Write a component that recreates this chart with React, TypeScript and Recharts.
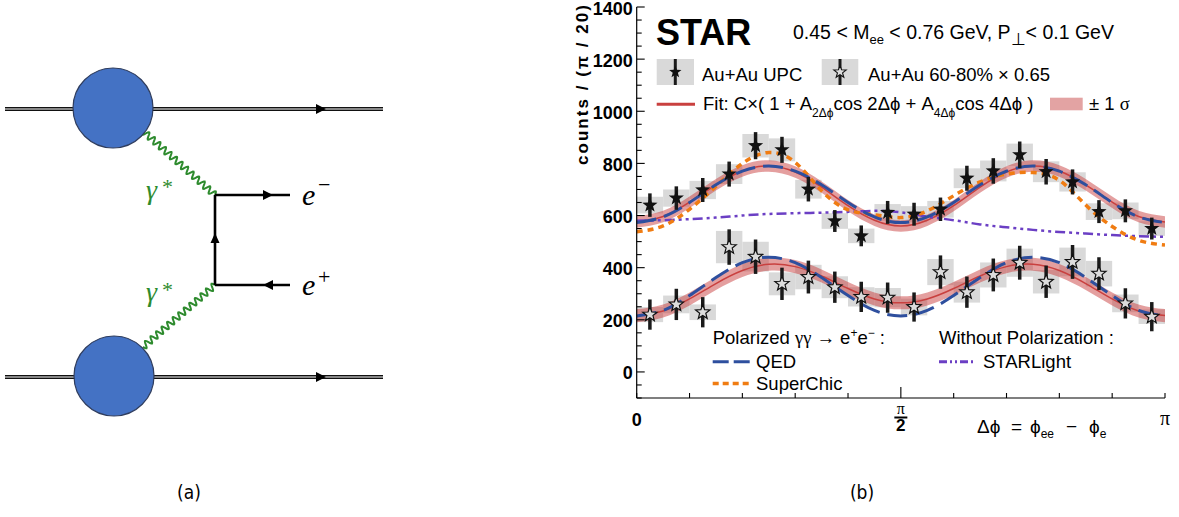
import React from "react";
import {
  ComposedChart,
  Line,
  Area,
  Scatter,
  XAxis,
  YAxis,
  ReferenceArea,
  ReferenceLine,
  ReferenceDot,
  ErrorBar,
} from "recharts";

// ---------------- data (x in units of pi) ----------------
const binCenters = [0.025, 0.075, 0.125, 0.175, 0.225, 0.275, 0.325, 0.375, 0.425, 0.475, 0.525, 0.575, 0.625, 0.675, 0.725, 0.775, 0.825, 0.875, 0.925, 0.975];
const binHalfWidth = 0.025;

const upcCounts = [640, 667, 698, 759, 868, 852, 701, 579, 522, 612, 605, 624, 743, 771, 833, 768, 729, 615, 618, 550];
const upcStat = [45, 45, 46, 48, 52, 50, 47, 42, 40, 44, 44, 45, 48, 49, 51, 49, 48, 44, 44, 42];
const upcSys = [32, 33, 35, 38, 45, 44, 36, 30, 28, 32, 31, 32, 38, 40, 43, 40, 37, 32, 32, 28];

const periphCounts = [220, 259, 229, 479, 442, 338, 364, 325, 288, 285, 249, 383, 306, 372, 419, 346, 422, 377, 263, 212];
const periphStat = [58, 60, 58, 68, 66, 62, 63, 60, 58, 58, 56, 64, 60, 63, 65, 62, 65, 63, 58, 56];
const periphSys = [29, 34, 30, 62, 57, 44, 47, 42, 37, 37, 32, 50, 40, 48, 54, 45, 55, 49, 34, 28];

const curveX = [0, 0.05, 0.1, 0.15, 0.2, 0.25, 0.3, 0.35, 0.4, 0.45, 0.5, 0.55, 0.6, 0.65, 0.7, 0.75, 0.8, 0.85, 0.9, 0.95, 1];
const upcFit = [575, 596, 651, 718, 771, 790, 767, 709, 638, 582, 560, 582, 638, 709, 767, 790, 771, 718, 651, 596, 575];
const upcFitSigma = 22;
const upcQED = [573, 595, 650, 718, 770, 790, 770, 718, 650, 595, 573, 595, 650, 718, 770, 790, 770, 718, 650, 595, 573];
const upcSuperChic = [538, 560, 624, 712, 800, 842, 804, 695, 622, 603, 592, 618, 676, 729, 759, 765, 735, 640, 558, 505, 487];
const upcStarlight = [580, 582, 586, 592, 600, 606, 609, 611, 614, 618, 612, 596, 582, 566, 555, 545, 537, 531, 525, 521, 518];

const periphFit = [216, 234, 280, 339, 389, 413, 404, 368, 320, 280, 265, 280, 320, 368, 404, 413, 389, 339, 280, 234, 216];
const periphFitSigma = 25;
const periphQED = [215, 236, 293, 362, 419, 440, 419, 362, 293, 236, 215, 236, 293, 362, 419, 440, 419, 362, 293, 236, 215];

const yTicks = [-100, -50, 0, 50, 100, 150, 200, 250, 300, 350, 400, 450, 500, 550, 600, 650, 700, 750, 800, 850, 900, 950, 1000, 1050, 1100, 1150, 1200, 1250, 1300, 1350, 1400];
const xTicks = [0, 0.1, 0.2, 0.3, 0.4, 0.5, 0.6, 0.7, 0.8, 0.9, 1];

// ---------------- derived tables ----------------
const curve = (vals: number[]) => curveX.map((x, i) => ({ x, y: vals[i] }));
const band = (vals: number[], s: number) => curveX.map((x, i) => ({ x, band: [vals[i] - s, vals[i] + s] }));
const points = (vals: number[], err: number[]) => binCenters.map((x, i) => ({ x, y: vals[i], err: err[i] }));

// ---------------- styles ----------------
const SANS = "'Liberation Sans', Arial, Helvetica, sans-serif";
const SERIF = "'Liberation Serif', 'DejaVu Serif', serif";
const NARROW = "'Liberation Sans Narrow', 'DejaVu Sans Condensed', sans-serif";
const RED = "#c9403f";
const BLUE = "#2e4f9e";
const ORANGE = "#f07c12";
const PURPLE = "#6b3fc4";
const GRAY = "#d9d9d9";
const GREEN = "#2e8b2e";
const CIRCLE = "#4472c4";

function starPoints(cx: number, cy: number, R: number, r: number) {
  const pts: string[] = [];
  for (let k = 0; k < 10; k++) {
    const a = -Math.PI / 2 + (k * Math.PI) / 5;
    const rad = k % 2 === 0 ? R : r;
    pts.push(`${(cx + rad * Math.cos(a)).toFixed(2)},${(cy + rad * Math.sin(a)).toFixed(2)}`);
  }
  return pts.join(" ");
}

const FilledStar = (p: any) =>
  p.cx == null ? <g /> : <polygon points={starPoints(p.cx, p.cy, 8, 3.3)} fill="#111" />;
const OpenStar = (p: any) =>
  p.cx == null ? <g /> : <polygon points={starPoints(p.cx, p.cy, 7.5, 3.2)} fill="#dcdcdc" stroke="#111" strokeWidth={1.2} />;

const LeftTick = (p: any) => {
  const { x, y, payload } = p;
  const v = payload.value;
  const major = v % 200 === 0;
  return (
    <g>
      <line x1={x} y1={y} x2={x + (major ? 8 : 5)} y2={y} stroke="#000" strokeWidth={1.1} />
      {major ? (
        <text x={x - 4} y={y + 7.5} textAnchor="end" fontFamily={SANS} fontWeight="bold" fontSize={18} fill="#000">
          {v}
        </text>
      ) : null}
    </g>
  );
};

const RightTick = (p: any) => {
  const { x, y, payload } = p;
  const major = payload.value % 200 === 0;
  return <line x1={x} y1={y} x2={x - (major ? 8 : 5)} y2={y} stroke="#000" strokeWidth={1.1} />;
};

const TopTick = (p: any) => {
  const { x, y } = p;
  return <line x1={x} y1={y} x2={x} y2={y + 6} stroke="#000" strokeWidth={1.1} />;
};

const BottomTick = (p: any) => {
  const { x, y, payload } = p;
  const v = payload.value;
  return (
    <g>
      <line x1={x} y1={y} x2={x} y2={y - (v === 0.5 ? 11 : 5)} stroke="#000" strokeWidth={1.1} />
      {v === 0 ? (
        <text x={x} y={y + 28} textAnchor="middle" fontFamily={SANS} fontWeight="bold" fontSize={18} fill="#000">0</text>
      ) : null}
      {v === 0.5 ? (
        <g>
          <text x={x} y={y + 16} textAnchor="middle" fontFamily={SERIF} fontSize={16} fill="#000">π</text>
          <line x1={x - 6.5} x2={x + 6.5} y1={y + 19.5} y2={y + 19.5} stroke="#000" strokeWidth={2} />
          <text x={x} y={y + 33} textAnchor="middle" fontFamily={SANS} fontWeight="bold" fontSize={17} fill="#000">2</text>
        </g>
      ) : null}
      {v === 1 ? (
        <text x={x} y={y + 27} textAnchor="middle" fontFamily={SERIF} fontSize={20} fill="#000">π</text>
      ) : null}
    </g>
  );
};

// ---------------- diagram shapes ----------------
const DoubleLine = (p: any) => {
  const { x1, y1, x2, y2 } = p;
  return (
    <g>
      <line x1={x1} y1={y1} x2={x2} y2={y2} stroke="#111" strokeWidth={4} />
      <line x1={x1} y1={y1} x2={x2} y2={y2} stroke="#fff" strokeWidth={1} />
    </g>
  );
};

const Wavy = (p: any) => {
  const { x1, y1, x2, y2 } = p;
  const dx = x2 - x1;
  const dy = y2 - y1;
  const L = Math.hypot(dx, dy) || 1;
  const nx = -dy / L;
  const ny = dx / L;
  const waves = 13;
  const amp = 3.2;
  const steps = waves * 12;
  let d = "";
  for (let i = 0; i <= steps; i++) {
    const t = i / steps;
    const off = amp * Math.sin(t * waves * 2 * Math.PI);
    const px = x1 + dx * t + nx * off;
    const py = y1 + dy * t + ny * off;
    d += (i ? "L" : "M") + px.toFixed(2) + "," + py.toFixed(2);
  }
  return <path d={d} fill="none" stroke={GREEN} strokeWidth={2} />;
};

const FermionLine = (p: any) => {
  const { x1, y1, x2, y2 } = p;
  return <line x1={x1} y1={y1} x2={x2} y2={y2} stroke="#000" strokeWidth={2.6} />;
};

const ArrowRight = (p: any) => (
  <polygon points={`${p.cx + 5},${p.cy} ${p.cx - 5},${p.cy - 5} ${p.cx - 5},${p.cy + 5}`} fill="#000" />
);
const ArrowLeft = (p: any) => (
  <polygon points={`${p.cx - 5},${p.cy} ${p.cx + 5},${p.cy - 5} ${p.cx + 5},${p.cy + 5}`} fill="#000" />
);
const ArrowUp = (p: any) => (
  <polygon points={`${p.cx},${p.cy - 5} ${p.cx - 4.5},${p.cy + 5} ${p.cx + 4.5},${p.cy + 5}`} fill="#000" />
);

// diagram geometry (pixel-like frame)
const beamTopY = 109;
const beamBotY = 377;
const beamX0 = 5;
const beamX1 = 383;
const blobTop = { x: 113, y: 108 };
const blobBot = { x: 114, y: 376 };
const blobR = 40;
const vertexTop = { x: 215, y: 195 };
const vertexBot = { x: 215, y: 285 };
const photonTopStart = { x: 143, y: 131 };
const photonBotStart = { x: 143, y: 347 };
const leptonEndX = 290;

const Diagram = () => (
  <ComposedChart width={400} height={517} margin={{ top: 0, right: 0, bottom: 0, left: 0 }}>
    <XAxis xAxisId="d" type="number" dataKey="x" domain={[0, 400]} hide allowDataOverflow />
    <YAxis yAxisId="d" type="number" domain={[0, 517]} reversed hide allowDataOverflow />
    <Scatter xAxisId="d" yAxisId="d" dataKey="y" data={[{ x: 0, y: 0 }, { x: 400, y: 517 }]} shape={() => <g />} isAnimationActive={false} />
    <ReferenceLine xAxisId="d" yAxisId="d" segment={[{ x: beamX0, y: beamTopY }, { x: beamX1, y: beamTopY }]} shape={DoubleLine} />
    <ReferenceLine xAxisId="d" yAxisId="d" segment={[{ x: beamX0, y: beamBotY }, { x: beamX1, y: beamBotY }]} shape={DoubleLine} />
    <ReferenceDot xAxisId="d" yAxisId="d" x={321} y={beamTopY} shape={ArrowRight} />
    <ReferenceDot xAxisId="d" yAxisId="d" x={321} y={beamBotY} shape={ArrowRight} />
    <ReferenceLine xAxisId="d" yAxisId="d" segment={[photonTopStart, vertexTop]} shape={Wavy} />
    <ReferenceLine xAxisId="d" yAxisId="d" segment={[photonBotStart, vertexBot]} shape={Wavy} />
    <ReferenceDot xAxisId="d" yAxisId="d" x={blobTop.x} y={blobTop.y} r={blobR} fill={CIRCLE} stroke="#2f3d5e" strokeWidth={1.2} />
    <ReferenceDot xAxisId="d" yAxisId="d" x={blobBot.x} y={blobBot.y} r={blobR} fill={CIRCLE} stroke="#2f3d5e" strokeWidth={1.2} />
    <ReferenceLine xAxisId="d" yAxisId="d" segment={[vertexTop, vertexBot]} shape={FermionLine} />
    <ReferenceLine xAxisId="d" yAxisId="d" segment={[vertexTop, { x: leptonEndX, y: vertexTop.y }]} shape={FermionLine} />
    <ReferenceLine xAxisId="d" yAxisId="d" segment={[vertexBot, { x: leptonEndX, y: vertexBot.y }]} shape={FermionLine} />
    <ReferenceDot xAxisId="d" yAxisId="d" x={vertexTop.x} y={238} shape={ArrowUp} />
    <ReferenceDot xAxisId="d" yAxisId="d" x={268} y={vertexTop.y} shape={ArrowRight} />
    <ReferenceDot xAxisId="d" yAxisId="d" x={268} y={vertexBot.y} shape={ArrowLeft} />
  </ComposedChart>
);

const Plot = () => (
  <ComposedChart width={619} height={460} margin={{ top: 7, right: 14, bottom: 0, left: 0 }}>
    <XAxis xAxisId="b" type="number" dataKey="x" domain={[0, 1]} ticks={xTicks} interval={0} allowDataOverflow
      tickSize={0} tickMargin={0} tickLine={false} tick={(p: any) => <BottomTick {...p} />} height={62}
      axisLine={{ stroke: "#000", strokeWidth: 1.2 }} />
    <XAxis xAxisId="t" orientation="top" type="number" dataKey="x" domain={[0, 1]} ticks={xTicks} interval={0} allowDataOverflow
      tickSize={0} tickMargin={0} tickLine={false} tick={(p: any) => <TopTick {...p} />} height={0}
      axisLine={{ stroke: "#000", strokeWidth: 1.2 }} />
    <YAxis yAxisId="l" type="number" domain={[-100, 1400]} ticks={yTicks} interval={0} allowDataOverflow
      tickSize={0} tickMargin={0} tickLine={false} tick={(p: any) => <LeftTick {...p} />} width={76.7}
      axisLine={{ stroke: "#000", strokeWidth: 1.2 }} />
    <YAxis yAxisId="r" orientation="right" type="number" domain={[-100, 1400]} ticks={yTicks} interval={0} allowDataOverflow
      tickSize={0} tickMargin={0} tickLine={false} tick={(p: any) => <RightTick {...p} />} width={0}
      axisLine={{ stroke: "#000", strokeWidth: 1.2 }} />

    {binCenters.map((c, i) => (
      <ReferenceArea key={"bu" + i} xAxisId="b" yAxisId="l" x1={c - binHalfWidth} x2={c + binHalfWidth}
        y1={upcCounts[i] - upcSys[i]} y2={upcCounts[i] + upcSys[i]} fill={GRAY} fillOpacity={1} stroke="none" />
    ))}
    {binCenters.map((c, i) => (
      <ReferenceArea key={"bp" + i} xAxisId="b" yAxisId="l" x1={c - binHalfWidth} x2={c + binHalfWidth}
        y1={periphCounts[i] - periphSys[i]} y2={periphCounts[i] + periphSys[i]} fill={GRAY} fillOpacity={1} stroke="none" />
    ))}

    <Area xAxisId="b" yAxisId="l" data={band(upcFit, upcFitSigma)} dataKey="band" type="natural" fill={RED} fillOpacity={0.5} stroke="none" isAnimationActive={false} />
    <Area xAxisId="b" yAxisId="l" data={band(periphFit, periphFitSigma)} dataKey="band" type="natural" fill={RED} fillOpacity={0.5} stroke="none" isAnimationActive={false} />
    <Line xAxisId="b" yAxisId="l" data={curve(upcFit)} dataKey="y" type="natural" stroke={RED} strokeWidth={1.5} dot={false} isAnimationActive={false} />
    <Line xAxisId="b" yAxisId="l" data={curve(periphFit)} dataKey="y" type="natural" stroke={RED} strokeWidth={1.5} dot={false} isAnimationActive={false} />
    <Line xAxisId="b" yAxisId="l" data={curve(upcStarlight)} dataKey="y" type="natural" stroke={PURPLE} strokeWidth={2.5} strokeDasharray="10 4 3 4 3 4" dot={false} isAnimationActive={false} />
    <Line xAxisId="b" yAxisId="l" data={curve(upcSuperChic)} dataKey="y" type="natural" stroke={ORANGE} strokeWidth={3.5} strokeDasharray="6 5" dot={false} isAnimationActive={false} />
    <Line xAxisId="b" yAxisId="l" data={curve(upcQED)} dataKey="y" type="natural" stroke={BLUE} strokeWidth={3} strokeDasharray="20 8" dot={false} isAnimationActive={false} />
    <Line xAxisId="b" yAxisId="l" data={curve(periphQED)} dataKey="y" type="natural" stroke={BLUE} strokeWidth={3} strokeDasharray="20 8" dot={false} isAnimationActive={false} />

    <Scatter xAxisId="b" yAxisId="l" data={points(upcCounts, upcStat)} dataKey="y" shape={FilledStar} isAnimationActive={false}>
      <ErrorBar dataKey="err" direction="y" width={0} stroke="#1a1a1a" strokeWidth={3.5} />
    </Scatter>
    <Scatter xAxisId="b" yAxisId="l" data={points(periphCounts, periphStat)} dataKey="y" shape={OpenStar} isAnimationActive={false}>
      <ErrorBar dataKey="err" direction="y" width={0} stroke="#1a1a1a" strokeWidth={3.5} />
    </Scatter>

    <Line xAxisId="t" yAxisId="r" data={curve(upcFit)} dataKey="y" stroke="none" dot={false} isAnimationActive={false} />
  </ComposedChart>
);

const Overlay = () => (
  <svg width={1179} height={517} style={{ position: "absolute", left: 0, top: 0, pointerEvents: "none" }}>
    {/* diagram labels */}
    <text x={146} y={199} fontFamily={SERIF} fontStyle="italic" fontSize={28} fill={GREEN}>γ</text>
    <text x={162} y={194} fontFamily={SERIF} fontSize={22} fill={GREEN}>*</text>
    <text x={146} y={301} fontFamily={SERIF} fontStyle="italic" fontSize={28} fill={GREEN}>γ</text>
    <text x={162} y={297} fontFamily={SERIF} fontSize={22} fill={GREEN}>*</text>
    <text x={302} y={205} fontFamily={SERIF} fontStyle="italic" fontSize={30} fill="#000">e</text>
    <text x={318} y={192} fontFamily={SERIF} fontSize={22} fill="#000">−</text>
    <text x={302} y={295} fontFamily={SERIF} fontStyle="italic" fontSize={30} fill="#000">e</text>
    <text x={318} y={284} fontFamily={SERIF} fontSize={22} fill="#000">+</text>

    <text x={189} y={499} textAnchor="middle" fontFamily={NARROW} fontSize={19} fill="#000">(a)</text>
    <text x={862} y={499} textAnchor="middle" fontFamily={NARROW} fontSize={19} fill="#000">(b)</text>

    {/* plot annotations */}
    <text x={656} y={45} fontFamily={SANS} fontWeight="bold" fontSize={36} fill="#000">STAR</text>
    <text x={793} y={39} fontFamily={SANS} fontSize={19.5} fill="#000">
      0.45 {"<"} M<tspan fontSize={13} dy={5}>ee</tspan>
      <tspan dy={-5}> {"<"} 0.76 GeV, P</tspan>
      <tspan fontSize={17} dy={6}>⊥</tspan>
      <tspan dy={-6}>{"<"} 0.1 GeV</tspan>
    </text>

    <text transform="rotate(-90, 588, 5)" x={588} y={5} textAnchor="end" fontFamily={SANS} fontWeight="bold" fontSize={17}
      textLength={160} lengthAdjust="spacing" fill="#000">
      counts  / (π / 20)
    </text>

    {/* legend row 1 */}
    <rect x={656.7} y={59} width={37.3} height={26} fill={GRAY} />
    <line x1={675.3} x2={675.3} y1={59} y2={85} stroke="#1a1a1a" strokeWidth={3} />
    <polygon points={starPoints(675.3, 72, 6.5, 2.7)} fill="#111" />
    <text x={702} y={81} fontFamily={SANS} fontSize={18.5} fill="#000">Au+Au UPC</text>
    <rect x={821.7} y={59} width={36.6} height={26} fill={GRAY} />
    <line x1={840} x2={840} y1={59} y2={85} stroke="#1a1a1a" strokeWidth={3} />
    <polygon points={starPoints(840, 72, 6.5, 2.7)} fill="#dcdcdc" stroke="#111" strokeWidth={1.1} />
    <text x={868} y={81} fontFamily={SANS} fontSize={18.5} fill="#000">Au+Au 60-80% × 0.65</text>

    {/* legend row 2 */}
    <line x1={656.7} x2={695} y1={104.3} y2={104.3} stroke={RED} strokeWidth={3} />
    <text x={703} y={110} fontFamily={SANS} fontSize={18.5} fill="#000">
      Fit: C×( 1 + A<tspan fontSize={12} dy={7}>2Δϕ</tspan>
      <tspan dy={-7}>cos 2Δϕ + A</tspan>
      <tspan fontSize={12} dy={7}>4Δϕ</tspan>
      <tspan dy={-7}>cos 4Δϕ )</tspan>
    </text>
    <rect x={1050} y={97.7} width={32.7} height={12.6} fill="#e3a3a3" />
    <text x={1089} y={110} fontFamily={SANS} fontSize={18.5} fill="#000">± 1 <tspan fontFamily={SERIF}>σ</tspan></text>

    {/* bottom legends */}
    <text x={712.7} y={343.5} fontFamily={SANS} fontSize={18.5} fill="#000">
      Polarized <tspan fontFamily={SERIF}>γγ</tspan>  → e<tspan fontSize={12} dy={-7}>+</tspan>
      <tspan dy={7}>e</tspan>
      <tspan fontSize={12} dy={-7}>−</tspan>
      <tspan dy={7}> :</tspan>
    </text>
    <line x1={712.7} x2={750} y1={361.7} y2={361.7} stroke={BLUE} strokeWidth={3} strokeDasharray="16 5" />
    <text x={756} y={367.5} fontFamily={SANS} fontSize={18.5} fill="#000">QED</text>
    <line x1={712.7} x2={750} y1={383.5} y2={383.5} stroke={ORANGE} strokeWidth={3.5} strokeDasharray="6 4" />
    <text x={756} y={389.5} fontFamily={SANS} fontSize={18.5} fill="#000">SuperChic</text>
    <text x={939} y={343.5} fontFamily={SANS} fontSize={18.5} fill="#000">Without Polarization :</text>
    <line x1={939} x2={976} y1={361.7} y2={361.7} stroke={PURPLE} strokeWidth={3} strokeDasharray="8 3 2 3 2 3" />
    <text x={983} y={367.5} fontFamily={SANS} fontSize={18.5} fill="#000">STARLight</text>

    {/* x-axis title */}
    <text y={433} fontFamily={SANS} fontSize={19} fill="#000">
      <tspan x={977}>Δϕ</tspan>
      <tspan x={1011}>=</tspan>
      <tspan x={1030}>ϕ</tspan>
      <tspan fontSize={12} dy={5}>ee</tspan>
      <tspan x={1066} dy={-5}>−</tspan>
      <tspan x={1089}>ϕ</tspan>
      <tspan fontSize={12} dy={5}>e</tspan>
    </text>
  </svg>
);

export default function App() {
  return (
    <div style={{ position: "absolute", left: 0, top: 0, width: 1179, height: 517, background: "#fff", overflow: "hidden" }}>
      <div style={{ position: "absolute", left: 0, top: 0 }}>
        <Diagram />
      </div>
      <div style={{ position: "absolute", left: 560, top: 0 }}>
        <Plot />
      </div>
      <Overlay />
    </div>
  );
}
